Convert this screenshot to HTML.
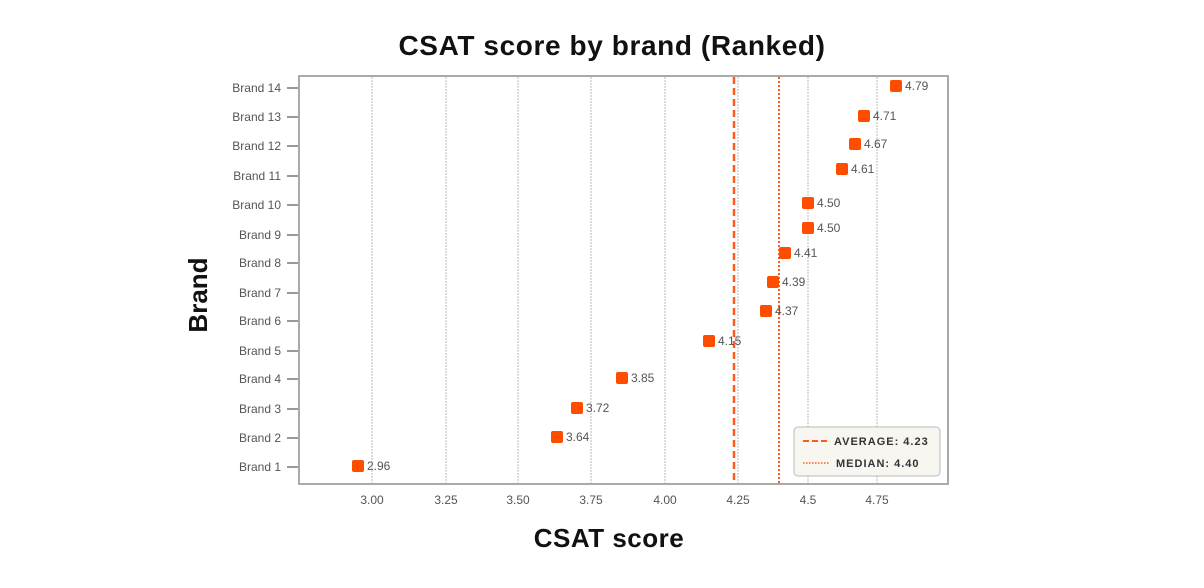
<!DOCTYPE html>
<html><head><style>
body{margin:0;background:#fff;}
svg text{font-family:"Liberation Sans",sans-serif;}
</style></head><body>
<svg width="1204" height="583" xmlns="http://www.w3.org/2000/svg">
<text x="612" y="55" text-anchor="middle" font-size="28" font-weight="bold" fill="#111" letter-spacing="0.6">CSAT score by brand (Ranked)</text>
<text x="609" y="547" text-anchor="middle" font-size="26" font-weight="bold" fill="#111" letter-spacing="0.5">CSAT score</text>
<text transform="translate(207,295) rotate(-90)" text-anchor="middle" font-size="26" font-weight="bold" fill="#111">Brand</text>
<g stroke="#bbb" stroke-width="1" stroke-dasharray="2,1">
<line x1="372" y1="77" x2="372" y2="483"/><line x1="446" y1="77" x2="446" y2="483"/>
<line x1="518" y1="77" x2="518" y2="483"/><line x1="591" y1="77" x2="591" y2="483"/>
<line x1="665" y1="77" x2="665" y2="483"/><line x1="738" y1="77" x2="738" y2="483"/>
<line x1="808" y1="77" x2="808" y2="483"/><line x1="877" y1="77" x2="877" y2="483"/>
</g>
<rect x="299" y="76" width="649" height="408" fill="none" stroke="#aaa" stroke-width="2"/>
<g font-size="12" fill="#555" text-anchor="middle">
<text x="372" y="504">3.00</text><text x="446" y="504">3.25</text><text x="518" y="504">3.50</text>
<text x="591" y="504">3.75</text><text x="665" y="504">4.00</text><text x="738" y="504">4.25</text>
<text x="808" y="504">4.5</text><text x="877" y="504">4.75</text>
</g>
<g font-size="12" fill="#555" text-anchor="end" stroke="none">
<text x="281" y="92">Brand 14</text><text x="281" y="121">Brand 13</text><text x="281" y="150">Brand 12</text>
<text x="281" y="180">Brand 11</text><text x="281" y="209">Brand 10</text><text x="281" y="239">Brand 9</text>
<text x="281" y="267">Brand 8</text><text x="281" y="297">Brand 7</text><text x="281" y="325">Brand 6</text>
<text x="281" y="355">Brand 5</text><text x="281" y="383">Brand 4</text><text x="281" y="413">Brand 3</text>
<text x="281" y="442">Brand 2</text><text x="281" y="471">Brand 1</text>
</g>
<g stroke="#999" stroke-width="2">
<line x1="287" x2="298" y1="88" y2="88"/><line x1="287" x2="298" y1="117" y2="117"/><line x1="287" x2="298" y1="146" y2="146"/>
<line x1="287" x2="298" y1="176" y2="176"/><line x1="287" x2="298" y1="205" y2="205"/><line x1="287" x2="298" y1="235" y2="235"/>
<line x1="287" x2="298" y1="263" y2="263"/><line x1="287" x2="298" y1="293" y2="293"/><line x1="287" x2="298" y1="321" y2="321"/>
<line x1="287" x2="298" y1="351" y2="351"/><line x1="287" x2="298" y1="379" y2="379"/><line x1="287" x2="298" y1="409" y2="409"/>
<line x1="287" x2="298" y1="438" y2="438"/><line x1="287" x2="298" y1="467" y2="467"/>
</g>
<line x1="734" y1="77" x2="734" y2="483" stroke="#ff5a1f" stroke-width="2.5" stroke-dasharray="7,4"/>
<line x1="779" y1="77" x2="779" y2="483" stroke="#ff5a1f" stroke-width="2" stroke-dasharray="2,2"/>
<g fill="#ff4d00">
<rect x="890" y="80" width="12" height="12" rx="2"/><rect x="858" y="110" width="12" height="12" rx="2"/>
<rect x="849" y="138" width="12" height="12" rx="2"/><rect x="836" y="163" width="12" height="12" rx="2"/>
<rect x="802" y="197" width="12" height="12" rx="2"/><rect x="802" y="222" width="12" height="12" rx="2"/>
<rect x="779" y="247" width="12" height="12" rx="2"/><rect x="767" y="276" width="12" height="12" rx="2"/>
<rect x="760" y="305" width="12" height="12" rx="2"/><rect x="703" y="335" width="12" height="12" rx="2"/>
<rect x="616" y="372" width="12" height="12" rx="2"/><rect x="571" y="402" width="12" height="12" rx="2"/>
<rect x="551" y="431" width="12" height="12" rx="2"/><rect x="352" y="460" width="12" height="12" rx="2"/>
</g>
<g font-size="12" fill="#555">
<text x="905" y="90">4.79</text><text x="873" y="120">4.71</text><text x="864" y="148">4.67</text>
<text x="851" y="173">4.61</text><text x="817" y="207">4.50</text><text x="817" y="232">4.50</text>
<text x="794" y="257">4.41</text><text x="782" y="286">4.39</text><text x="775" y="315">4.37</text>
<text x="718" y="345">4.15</text><text x="631" y="382">3.85</text><text x="586" y="412">3.72</text>
<text x="566" y="441">3.64</text><text x="367" y="470">2.96</text>
</g>
<rect x="794" y="427" width="146" height="49" rx="4" fill="#f8f6f1" stroke="#bbb"/>
<line x1="803" y1="441" x2="829" y2="441" stroke="#ff5a1f" stroke-width="2" stroke-dasharray="6,3"/>
<line x1="803" y1="463" x2="829" y2="463" stroke="#ff5a1f" stroke-width="1.5" stroke-dasharray="1.5,1.5"/>
<g font-size="11" font-weight="bold" fill="#333" letter-spacing="1">
<text x="834" y="445">AVERAGE: 4.23</text><text x="836" y="467">MEDIAN: 4.40</text>
</g>
</svg>
</body></html>
